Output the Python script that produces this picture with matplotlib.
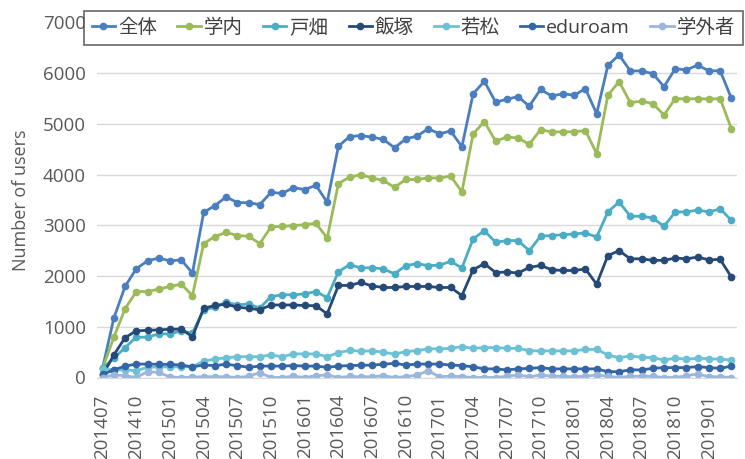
import numpy as np
import matplotlib
matplotlib.use("Agg")
import matplotlib.pyplot as plt

plt.rcParams['font.family'] = ['Open Sans', 'Noto Sans CJK JP', 'DejaVu Sans']

# months 201407 .. 201903
months = []
for y in range(2014, 2020):
    for m in range(1, 13):
        ym = y * 100 + m
        if 201407 <= ym <= 201903:
            months.append(str(ym))

zentai = [190, 1170, 1795, 2145, 2300, 2355, 2300, 2320, 2060, 3255, 3390, 3560,
          3450, 3445, 3410, 3650, 3630, 3745, 3705, 3790, 3455, 4560, 4750, 4770,
          4740, 4695, 4530, 4705, 4760, 4905, 4805, 4860, 4550, 5595, 5840, 5430,
          5485, 5540, 5350, 5680, 5550, 5595, 5565, 5695, 5200, 6155, 6360, 6045,
          6045, 5990, 5735, 6090, 6065, 6160, 6045, 6050, 5505]
gakunai = [180, 795, 1355, 1695, 1695, 1745, 1795, 1840, 1615, 2640, 2780, 2860,
           2800, 2785, 2640, 2970, 2980, 2995, 3015, 3040, 2750, 3825, 3950, 4000,
           3935, 3885, 3750, 3905, 3905, 3935, 3935, 3970, 3660, 4805, 5045, 4660,
           4740, 4725, 4595, 4890, 4840, 4845, 4845, 4870, 4415, 5565, 5835, 5420,
           5450, 5400, 5175, 5500, 5490, 5500, 5490, 5500, 4905]
tobata = [180, 380, 590, 795, 795, 860, 860, 920, 875, 1335, 1385, 1485,
          1430, 1450, 1370, 1595, 1630, 1630, 1650, 1695, 1575, 2085, 2225, 2160,
          2165, 2140, 2045, 2205, 2245, 2205, 2215, 2290, 2160, 2735, 2895, 2665,
          2700, 2700, 2500, 2785, 2800, 2815, 2830, 2850, 2770, 3265, 3460, 3180,
          3180, 3145, 2980, 3265, 3265, 3300, 3265, 3325, 3100]
iizuka = [50, 445, 785, 920, 930, 940, 950, 955, 805, 1365, 1420, 1445,
          1385, 1365, 1335, 1430, 1430, 1430, 1420, 1415, 1255, 1815, 1815, 1875,
          1805, 1775, 1775, 1795, 1795, 1795, 1775, 1775, 1615, 2125, 2245, 2070,
          2080, 2060, 2170, 2210, 2125, 2110, 2110, 2140, 1840, 2405, 2500, 2340,
          2340, 2310, 2310, 2355, 2340, 2375, 2320, 2330, 1980]
wakamatsu = [170, 150, 150, 135, 200, 210, 210, 210, 210, 325, 360, 390,
             410, 410, 410, 445, 410, 465, 465, 465, 410, 490, 535, 520,
             525, 500, 460, 510, 530, 565, 565, 575, 610, 575, 590, 590,
             575, 575, 530, 525, 525, 525, 525, 555, 555, 445, 390, 425,
             400, 390, 345, 380, 360, 380, 370, 360, 345]
eduroam = [60, 150, 225, 265, 265, 260, 260, 245, 210, 245, 235, 260,
           235, 200, 225, 225, 225, 235, 225, 225, 200, 225, 235, 240,
           245, 260, 280, 245, 265, 265, 265, 245, 235, 210, 170, 170,
           150, 170, 180, 195, 170, 170, 170, 170, 170, 115, 115, 150,
           150, 180, 195, 195, 195, 215, 195, 180, 225]
gakugai = [0, 50, 35, 0, 115, 100, 10, 0, 10, 15, 15, 15,
           0, 25, 95, 0, 0, 25, 0, 35, 50, 0, 20, 15,
           15, 35, 0, 15, 50, 130, 15, 30, 15, 0, 0, 0,
           25, 50, 15, 50, 25, 25, 15, 25, 50, 25, 0, 25,
           25, 25, 0, 0, 35, 70, 15, 15, 0]

names = ['全体', '学内', '戸畑', '飯塚', '若松', 'eduroam', '学外者']
series = [zentai, gakunai, tobata, iizuka, wakamatsu, eduroam, gakugai]
colors = ['#4A7EBF', '#9BBB59', '#4BACC6', '#264A78', '#6DC1D5', '#3465A4', '#9AB6DC']

fig = plt.figure(figsize=(7.45, 4.59), dpi=100)
ax = fig.add_axes([97/745, 81.5/459, 640/745, 355/459])

x = np.arange(len(months))
for name, vals, c in zip(names, series, colors):
    ax.plot(x, vals, '-o', color=c, lw=2, ms=4.5, label=name)

ax.set_xlim(-0.5, len(months) - 0.5)
ax.set_ylim(0, 7000)
ax.set_yticks(range(0, 7001, 1000))
ax.set_xticks(x[::3])
ax.set_xticklabels(months[::3], rotation=90)
ax.tick_params(axis='both', length=0, labelsize=13.5, labelcolor='#595959')
ax.tick_params(axis='x', pad=12)
ax.tick_params(axis='y', pad=8)
ax.grid(axis='y', color='#D9D9D9', lw=1)
ax.set_axisbelow(True)
for s in ['top', 'right', 'left']:
    ax.spines[s].set_visible(False)
ax.spines['bottom'].set_color('#D9D9D9')
ax.set_ylabel('Number of users', fontsize=13, color='#595959', labelpad=9)

# legend box stretched over the top, like the original
leg = fig.legend(loc='upper left', bbox_to_anchor=(84/745, 1 - 11/459, 659/745, 0),
                 mode='expand', ncol=7,
                 fontsize=14, frameon=True, fancybox=False, handlelength=1.2,
                 handletextpad=0.15, columnspacing=1.0, borderpad=0.4,
                 borderaxespad=0, labelcolor='#404040')
leg.get_frame().set_edgecolor('#404040')
leg.get_frame().set_linewidth(1.2)

fig.savefig('out.png', dpi=100)
